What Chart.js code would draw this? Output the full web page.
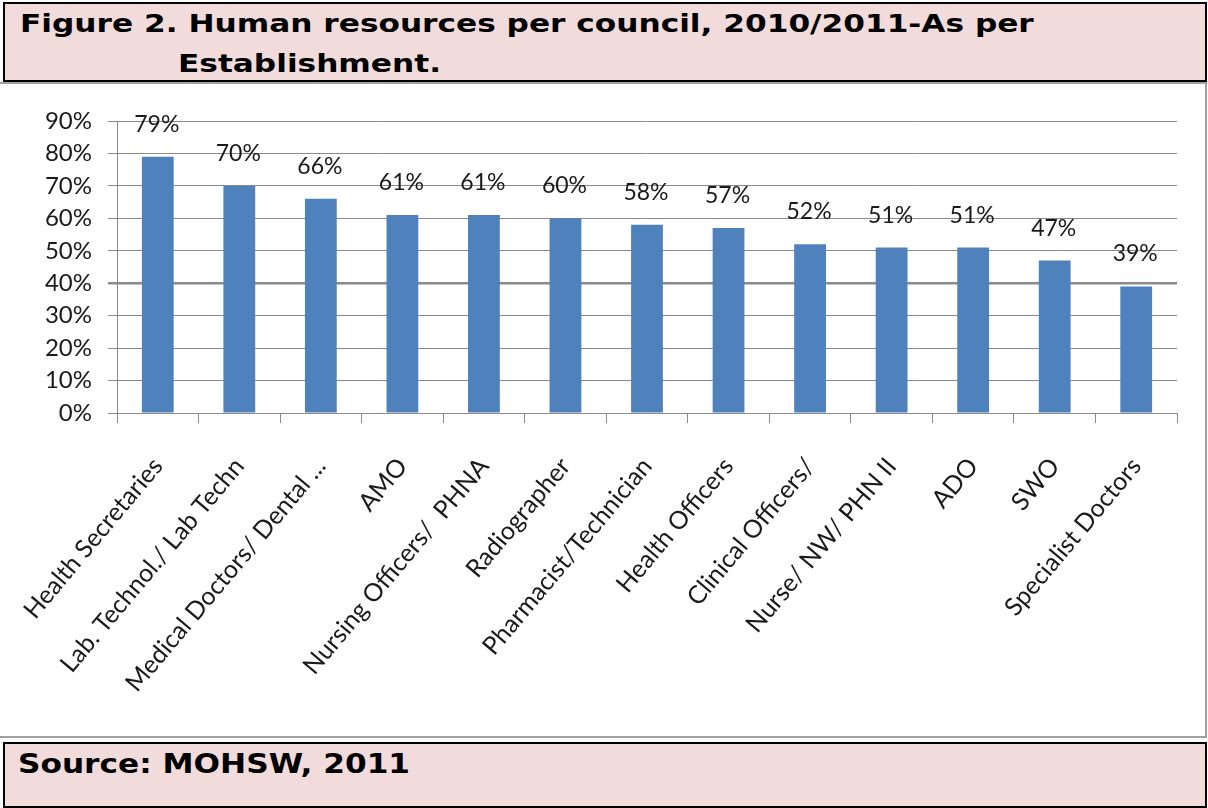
<!DOCTYPE html>
<html>
<head>
<meta charset="utf-8">
<script src="https://cdn.jsdelivr.net/npm/chart.js@4.4.0/dist/chart.umd.min.js"></script>
<style>
  html, body { margin: 0; padding: 0; background: #fff; }
  body { width: 1208px; height: 808px; position: relative; overflow: hidden; }
  .box {
    position: absolute; box-sizing: border-box;
    background: #f2dcdb; border: 2px solid #000;
    font-family: "DejaVu Sans", Verdana, sans-serif; font-weight: bold; color: #000;
  }
  #titleBox { left: 3px; top: 2px; width: 1204px; height: 80px; }
  #sourceBox { left: 3px; top: 742px; width: 1204px; height: 66px; }
  .line {
    position: absolute; white-space: nowrap; font-size: 24px; line-height: 24px;
    transform-origin: 0 0; transform: scaleX(1.3);
  }
  #chartFrame {
    position: absolute; box-sizing: border-box; left: -2px; top: 82px; width: 1209px; height: 656px;
    border: 2px solid #a0a0a0; background: #fff;
  }
  #wrap { position: absolute; left: 0; top: 85px; width: 1200px; height: 650px; }
</style>
</head>
<body>
<div id="titleBox" class="box">
  <div class="line" style="left:15px; top:8px;">Figure 2. Human resources per council, 2010/2011-As per</div>
  <div class="line" style="left:173px; top:48px;">Establishment.</div>
</div>
<div id="chartFrame"></div>
<div id="wrap"><canvas id="chart"></canvas></div>
<div id="sourceBox" class="box">
  <div class="line" style="left:13px; top:7px; font-size:26px; line-height:26px; transform: scaleX(1.2);">Source: MOHSW, 2011</div>
</div>

<script>
// Categorías y valores (% del establecimiento cubierto)
const categories = [
  'Health Secretaries', 'Lab. Technol./ Lab Techn', 'Medical Doctors/ Dental ...', 'AMO',
  'Nursing Officers/  PHNA', 'Radiographer', 'Pharmacist/Technician', 'Health Officers',
  'Clinical Officers/', 'Nurse/ NW/ PHN II', 'ADO', 'SWO', 'Specialist Doctors'
];
const values = [79, 70, 66, 61, 61, 60, 58, 57, 52, 51, 51, 47, 39];
const yTicks = [0, 10, 20, 30, 40, 50, 60, 70, 80, 90];

const barColor = '#4f81bd';
const gridColor = '#8a8a8a';
const textColor = '#1a1a1a';

// Etiquetas de valor encima de cada barra
const valueLabels = {
  id: 'valueLabels',
  afterDatasetsDraw(chart) {
    const { ctx } = chart;
    const meta = chart.getDatasetMeta(0);
    ctx.save();
    ctx.font = '23px Lato';
    ctx.fillStyle = textColor;
    ctx.textAlign = 'center';
    ctx.textBaseline = 'alphabetic';
    meta.data.forEach((bar, i) => {
      ctx.fillText(values[i] + '%', bar.x - 1, bar.y - 25);
    });
    ctx.restore();
  }
};

new Chart(document.getElementById('chart'), {
  type: 'bar',
  data: {
    labels: categories,
    datasets: [{
      data: values,
      backgroundColor: barColor,
      borderWidth: 0,
      categoryPercentage: 1,
      barPercentage: 0.39
    }]
  },
  options: {
    responsive: true,
    maintainAspectRatio: false,
    animation: false,
    layout: { padding: { top: 36, right: 23, left: 0, bottom: 0 } },
    plugins: { legend: { display: false }, tooltip: { enabled: false } },
    scales: {
      x: {
        // altura fija y sin relleno lateral para que el área quede en 117..1177
        afterFit: (scale) => { scale.height = 322; scale.paddingLeft = 0; scale.paddingRight = 0; },
        border: { color: gridColor, width: 1 },
        grid: { display: true, drawOnChartArea: false, drawTicks: true, tickLength: 10, color: gridColor, offset: true },
        ticks: {
          color: textColor,
          font: { family: 'Lato', size: 25 },
          minRotation: 50, maxRotation: 50,
          autoSkip: false,
          padding: 29
        }
      },
      y: {
        min: 0, max: 90,
        afterFit: (scale) => { scale.width = 117; },
        afterBuildTicks: (scale) => { scale.ticks = yTicks.map(v => ({ value: v })); },
        border: { color: gridColor, width: 1 },
        grid: {
          color: gridColor,
          lineWidth: (c) => (c.tick && c.tick.value === 40 ? 2.5 : 1),
          tickLength: 9
        },
        ticks: {
          color: textColor,
          font: { family: 'Lato', size: 24 },
          padding: 16,
          callback: (v) => v + '%'
        }
      }
    }
  },
  plugins: [valueLabels]
});
</script>
</body>
</html>
